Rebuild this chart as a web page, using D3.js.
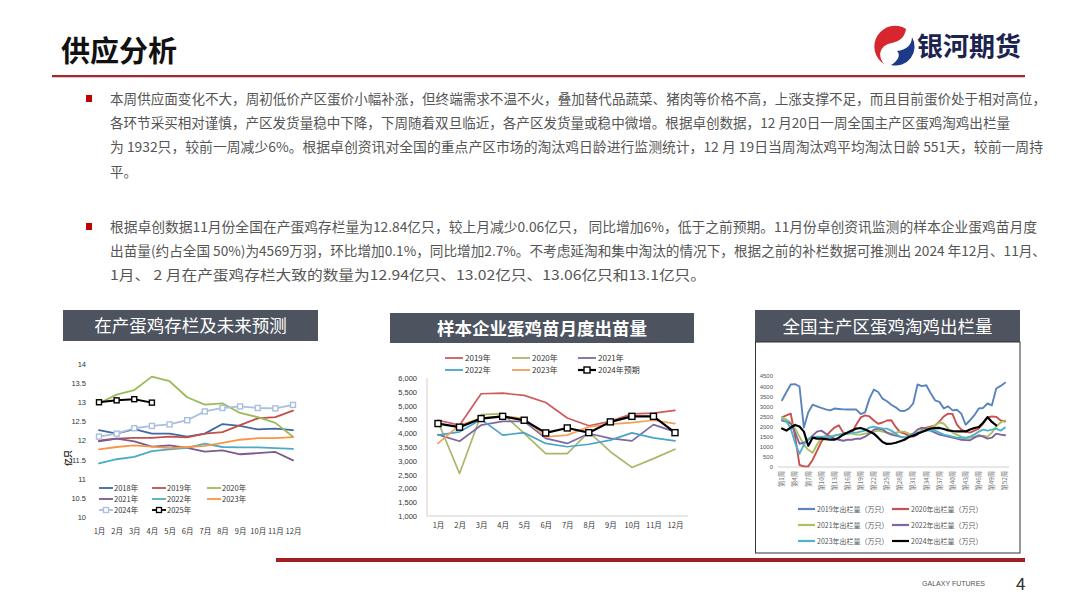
<!DOCTYPE html>
<html><head><meta charset="utf-8">
<script src="https://cdn.jsdelivr.net/npm/d3@7"></script>
<style>body{margin:0;background:#fff;overflow:hidden} svg{display:block}</style>
</head><body>
<svg id="c" width="1080" height="608"></svg>
<script>
// ---------- texts ----------
const pageTitle = "供应分析";
const logoText = "银河期货";
const para1Lines = [
 "本周供应面变化不大，周初低价产区蛋价小幅补涨，但终端需求不温不火，叠加替代品蔬菜、猪肉等价格不高，上涨支撑不足，而且目前蛋价处于相对高位，",
 "各环节采买相对谨慎，产区发货量稳中下降，下周随着双旦临近，各产区发货量或稳中微增。根据卓创数据，12 月20日一周全国主产区蛋鸡淘鸡出栏量",
 "为 1932只，较前一周减少6%。根据卓创资讯对全国的重点产区市场的淘汰鸡日龄进行监测统计，12 月 19日当周淘汰鸡平均淘汰日龄 551天，较前一周持",
 "平。"
];
const para2Lines = [
 "根据卓创数据11月份全国在产蛋鸡存栏量为12.84亿只，较上月减少0.06亿只， 同比增加6%，低于之前预期。11月份卓创资讯监测的样本企业蛋鸡苗月度",
 "出苗量(约占全国 50%)为4569万羽，环比增加0.1%，同比增加2.7%。不考虑延淘和集中淘汰的情况下，根据之前的补栏数据可推测出 2024 年12月、11月、",
 "1月、 2 月在产蛋鸡存栏大致的数量为12.94亿只、13.02亿只、13.06亿只和13.1亿只。"
];
const chartTitles = ["在产蛋鸡存栏及未来预测", "样本企业蛋鸡苗月度出苗量", "全国主产区蛋鸡淘鸡出栏量"];
const footerText = "GALAXY FUTURES";
const pageNumber = "4";

// ---------- chart 1: 在产蛋鸡存栏 (亿只) ----------
const months = ["1月","2月","3月","4月","5月","6月","7月","8月","9月","10月","11月","12月"];
const stockTicks = [10,10.5,11,11.5,12,12.5,13,13.5,14];
const stockUnit = "亿只";
const stockNames = ["2018年","2019年","2020年","2021年","2022年","2023年","2024年","2025年"];
const stock2018 = [12.27,12.18,12.30,12.18,12.18,12.10,12.18,12.43,12.38,12.29,12.31,12.27];
const stock2019 = [12.00,12.05,12.07,12.07,12.10,12.08,12.18,12.22,12.40,12.58,12.61,12.78];
const stock2020 = [12.97,13.20,13.32,13.67,13.55,13.13,12.94,12.97,12.72,12.61,12.46,12.10];
const stock2021 = [11.98,12.05,11.98,11.84,11.87,11.81,11.71,11.74,11.64,11.67,11.70,11.48];
const stock2022 = [11.40,11.51,11.57,11.72,11.77,11.81,11.92,11.83,11.82,11.82,11.80,11.78];
const stock2023 = [11.77,11.83,11.87,11.84,11.80,11.83,11.86,11.94,12.02,12.06,12.06,12.09];
const stock2024 = [12.10,12.18,12.32,12.38,12.42,12.53,12.76,12.85,12.89,12.85,12.84,12.93];
const stock2025 = [13.00,13.05,13.08,12.99];

// ---------- chart 2: 蛋鸡苗月度出苗量 ----------
const chickTicks = [1000,1500,2000,2500,3000,3500,4000,4500,5000,5500,6000];
const chickNames = ["2019年","2020年","2021年","2022年","2023年","2024年预期"];
const chick2019 = [4470,4290,5430,5450,5370,5110,4550,4270,4430,4700,4730,4830];
const chick2020 = [4420,2540,4670,4710,3990,3260,3260,4050,3330,2760,3080,3420];
const chick2021 = [3950,3710,4290,4430,4430,3810,3630,3990,3810,3720,4310,4050];
const chick2022 = [3930,4050,4500,3930,4020,3630,3510,3600,3750,4010,3830,3720];
const chick2023 = [3630,4290,4550,4620,4530,3870,3930,4230,4330,4380,4470,4350];
const chick2024f = [4350,4220,4530,4610,4470,4010,4190,4020,4410,4610,4610,4020];

// ---------- chart 3: 蛋鸡淘鸡出栏量 (万只, weekly) ----------
const weekTicks = [0,500,1000,1500,2000,2500,3000,3500,4000,4500];
const weekLabelWeeks = [1,4,7,10,13,16,19,22,25,28,31,34,37,40,43,46,49,52];
const cullNames = ["2019年出栏量（万只）","2020年出栏量（万只）","2021年出栏量（万只）","2022年出栏量（万只）","2023年出栏量（万只）","2024年出栏量（万只）"];
const cull2019 = [3300,3700,4080,4100,3980,1950,2700,3080,3000,2920,2850,2800,2890,2870,2850,2840,2840,2840,2620,2700,3380,3830,3710,3380,3250,3080,2950,2780,2770,2890,3140,4080,4000,4040,3650,3300,3220,2900,3000,2800,2830,2640,2090,2310,2560,2890,2920,3140,3050,3880,4010,4170];
const cull2020 = [2450,2550,2640,1500,100,30,30,350,800,1250,1500,1750,1950,2060,1700,1650,1700,2100,2450,2550,2500,2300,2140,2200,2300,2310,1980,1730,1650,1550,1500,1600,1850,1950,2000,2050,2250,2500,2640,2620,2100,1850,1750,1700,1800,1900,2150,2450,2500,2480,2300,2250];
const cull2021 = [2450,2350,2200,1900,1500,1100,850,700,1100,1450,1550,1500,1550,1600,1600,1650,1650,1600,1600,1650,1700,1750,1800,1750,1700,1650,1700,1750,1750,1650,1600,1700,1800,1900,1950,2050,2200,2150,1900,1700,1600,1500,1400,1450,1500,1500,1550,1500,1700,2000,2200,2300];
const cull2022 = [2300,2250,2150,1700,1150,1200,1350,1550,1750,1800,1650,1500,1400,1350,1300,1350,1350,1400,1400,1500,1650,1850,1900,1850,1700,1600,1550,1500,1450,1500,1650,1850,1950,1900,1800,1700,1600,1550,1500,1450,1400,1350,1330,1320,1450,1570,1500,1400,1450,1650,1600,1570];
const cull2023 = [2360,2250,1900,1200,650,1100,1400,1450,1500,1500,1450,1500,1550,1600,1650,1650,1700,1700,1750,1800,1950,2000,1950,1900,1900,1800,1650,1500,1450,1500,1600,1700,1750,1800,1800,1800,1700,1600,1550,1500,1450,1450,1450,1500,1600,1750,1850,1800,1850,1900,1800,1950];
const cull2024 = [1900,1800,1950,2080,2000,1750,1050,1450,1400,1400,1380,1350,1350,1450,1600,1700,1800,1900,1930,1850,1750,1650,1450,1240,1140,1150,1200,1270,1350,1480,1550,1650,1730,1820,1900,1920,1930,1880,1810,1780,1760,1760,1760,1850,1930,1980,2190,2470,2230,2060];

// ---------- drawing ----------
const svg = d3.select("#c");
const CJK = "'Noto Sans CJK SC','Noto Sans',sans-serif";
const NUM = "'Liberation Sans','DejaVu Sans',sans-serif";
svg.append("rect").attr("width",1080).attr("height",608).attr("fill","#fff");

// header
svg.append("text").attr("x",61).attr("y",62).text(pageTitle)
  .attr("font-family",CJK).attr("font-weight",700).attr("font-size",29).attr("fill","#111");
// logo icon
const logo = svg.append("g");
logo.append("path").attr("d","M906,29 A19,19 0 1,0 884,64 C877,55 880,45 892,43 C901,41 905,36 906,29 Z").attr("fill","#d7262e");
logo.append("path").attr("d","M912,37 A19,19 0 0,1 891,65 C898,61 901,55 897,51 C906,50 912,45 912,37 Z").attr("fill","#1d3a8a");
svg.append("text").attr("x",917).attr("y",56).text(logoText)
  .attr("font-family",CJK).attr("font-weight",700).attr("font-size",26).attr("fill","#1b2350");
svg.append("rect").attr("x",52).attr("y",75).attr("width",973).attr("height",2).attr("fill","#a8272c");
svg.append("rect").attr("x",52).attr("y",77).attr("width",973).attr("height",1).attr("fill","#d8c8c8");

// paragraphs
const p1Widths = [936,900,933,null];
const p2Widths = [927,936,596];
function para(lines, widths, y0){
  svg.append("rect").attr("x",86).attr("y",y0-9).attr("width",6).attr("height",7).attr("fill","#c00000");
  lines.forEach((s,i)=>{
    const t = svg.append("text").attr("x",110).attr("y",y0+i*24.2).text(s)
      .attr("font-family",CJK).attr("font-size",13.5).attr("fill","#555");
    if(widths[i]) t.attr("textLength",widths[i]).attr("lengthAdjust","spacingAndGlyphs");
  });
}
para(para1Lines,p1Widths,104);
para(para2Lines,p2Widths,232);

// chart title boxes
const boxes = [{x:63,y:310,w:255,h:31,b:400},{x:390,y:313,w:304,h:30,b:700},{x:755,y:310,w:265,h:32,b:400}];
boxes.forEach((b,i)=>{
  svg.append("rect").attr("x",b.x).attr("y",b.y).attr("width",b.w).attr("height",b.h).attr("fill","#4d5460");
  svg.append("text").attr("x",b.x+b.w/2).attr("y",b.y+b.h/2+6.5).attr("text-anchor","middle").text(chartTitles[i])
    .attr("font-family",CJK).attr("font-weight",b.b).attr("font-size",17.5).attr("fill","#fff");
});

function drawSeries(g, data, x, y, color, width, marker, markerFill){
  const pts = data.map((v,i)=>[x(i),y(v)]);
  g.append("path").attr("d",d3.line()(pts)).attr("fill","none").attr("stroke",color)
    .attr("stroke-width",width).attr("stroke-linejoin","round").attr("stroke-linecap","round");
  if(marker){
    g.selectAll(null).data(pts).join("rect").attr("x",d=>d[0]-marker/2).attr("y",d=>d[1]-marker/2)
      .attr("width",marker).attr("height",marker).attr("fill",markerFill).attr("stroke",color).attr("stroke-width",1.4);
  }
}

// ---------- chart 1 ----------
{
  const g = svg.append("g");
  const x = d3.scalePoint().domain(months).range([99,293]);
  const y = d3.scaleLinear().domain([10,14]).range([517,364]);
  const xi = i=>x(months[i]);
  const yAxis = d3.axisLeft(y).tickValues(stockTicks).tickSize(0).tickPadding(0).tickFormat(d3.format("~g"));
  const ya = g.append("g").attr("transform","translate(86,0)").call(yAxis);
  ya.select(".domain").remove();
  ya.selectAll("text").attr("font-family",NUM).attr("font-size",7.5).attr("fill","#333");
  const xAxis = d3.axisBottom(x).tickSize(0).tickPadding(0);
  const xa = g.append("g").attr("transform","translate(0,529)").call(xAxis);
  xa.select(".domain").remove();
  xa.selectAll("text").attr("font-family",CJK).attr("font-size",7.5).attr("fill","#333");
  g.append("text").attr("transform","translate(71,458) rotate(-90)").attr("text-anchor","middle").text(stockUnit)
    .attr("font-family",CJK).attr("font-weight",700).attr("font-size",8).attr("fill","#222");
  const cols = ["#44679f","#c0504d","#9bbb59","#7b5a8e","#4bacc6","#f79646","#a9bfdf","#000000"];
  const series = [stock2018,stock2019,stock2020,stock2021,stock2022,stock2023,stock2024,stock2025];
  series.forEach((s,i)=>{
    const mk = i>=6 ? 5 : 0;
    drawSeries(g,s,xi,y,cols[i],i===7?2:1.8,mk,"#fff");
  });
  // legend
  const lx = [99,152,207], ly=[488,499,510];
  stockNames.forEach((n,i)=>{
    const cx = lx[i%3], cy = ly[Math.floor(i/3)];
    g.append("line").attr("x1",cx).attr("x2",cx+14).attr("y1",cy).attr("y2",cy).attr("stroke",cols[i]).attr("stroke-width",1.8);
    if(i>=6) g.append("rect").attr("x",cx+4.5).attr("y",cy-2.5).attr("width",5).attr("height",5).attr("fill","#fff").attr("stroke",cols[i]).attr("stroke-width",1.3);
    g.append("text").attr("x",cx+15).attr("y",cy+2.8).text(n).attr("font-family",CJK).attr("font-size",7.5).attr("fill","#333");
  });
}

// ---------- chart 2 ----------
{
  const g = svg.append("g");
  const x = d3.scalePoint().domain(months).range([438,675]);
  const y = d3.scaleLinear().domain([1000,6000]).range([516,378]);
  const xi = i=>x(months[i]);
  g.append("line").attr("x1",427).attr("x2",427).attr("y1",378).attr("y2",516).attr("stroke","#d0d0d0");
  g.append("line").attr("x1",427).attr("x2",688).attr("y1",516).attr("y2",516).attr("stroke","#d0d0d0");
  const ya = g.append("g").attr("transform","translate(417,0)").call(d3.axisLeft(y).tickValues(chickTicks).tickSize(0).tickPadding(0).tickFormat(d3.format(",")));
  ya.select(".domain").remove();
  ya.selectAll("text").attr("font-family",NUM).attr("font-size",7.5).attr("fill","#333");
  const xa = g.append("g").attr("transform","translate(0,523)").call(d3.axisBottom(x).tickSize(0).tickPadding(0));
  xa.select(".domain").remove();
  xa.selectAll("text").attr("font-family",CJK).attr("font-size",7.5).attr("fill","#333");
  const cols = ["#cf5b5e","#a4b96a","#7e68a4","#4aa3c8","#f2a05a","#000000"];
  const series = [chick2019,chick2020,chick2021,chick2022,chick2023,chick2024f];
  series.forEach((s,i)=>drawSeries(g,s,xi,y,cols[i],i===5?2.2:1.7,i===5?6:0,"#fff"));
  const lx=[445,512,578], ly=[358,370];
  chickNames.forEach((n,i)=>{
    const cx=lx[i%3], cy=ly[Math.floor(i/3)];
    g.append("line").attr("x1",cx).attr("x2",cx+18).attr("y1",cy).attr("y2",cy).attr("stroke",cols[i]).attr("stroke-width",i===5?2.2:1.8);
    if(i===5) g.append("rect").attr("x",cx+6).attr("y",cy-3).attr("width",6).attr("height",6).attr("fill","#fff").attr("stroke","#000").attr("stroke-width",1.4);
    g.append("text").attr("x",cx+20).attr("y",cy+3).text(n).attr("font-family",CJK).attr("font-size",8).attr("fill","#333");
  });
}

// ---------- chart 3 ----------
{
  const g = svg.append("g");
  g.append("rect").attr("x",755.5).attr("y",342).attr("width",264.5).attr("height",211).attr("fill","none").attr("stroke","#333").attr("stroke-width",1);
  const x = d3.scaleLinear().domain([1,52]).range([782,1005]);
  const y = d3.scaleLinear().domain([0,4500]).range([467,376]);
  g.append("line").attr("x1",778).attr("x2",1009).attr("y1",467).attr("y2",467).attr("stroke","#d0d0d0");
  const ya = g.append("g").attr("transform","translate(773,0)").call(d3.axisLeft(y).tickValues(weekTicks).tickSize(0).tickPadding(0).tickFormat(d3.format("d")));
  ya.select(".domain").remove();
  ya.selectAll("text").attr("font-family",NUM).attr("font-size",6).attr("fill","#555");
  g.selectAll(null).data(weekLabelWeeks).join("text")
    .attr("transform",d=>`translate(${x(d)+2.3},471) rotate(-90)`).attr("text-anchor","end").text(d=>`第${d}周`)
    .attr("font-family",CJK).attr("font-size",6.3).attr("fill","#777");
  const cols = ["#5a84bc","#c9504f","#a9c25f","#7f64a0","#4fb2cc","#000000"];
  const series = [cull2019,cull2020,cull2021,cull2022,cull2023,cull2024];
  series.forEach((s,i)=>drawSeries(g,s,i2=>x(i2+1),y,cols[i],i===5?2.2:1.9,0,null));
  const lx=[798,892], ly=[509,525,541];
  cullNames.forEach((n,i)=>{
    const cx=lx[i%2], cy=ly[Math.floor(i/2)];
    g.append("line").attr("x1",cx).attr("x2",cx+17).attr("y1",cy).attr("y2",cy).attr("stroke",cols[i]).attr("stroke-width",2.2);
    g.append("text").attr("x",cx+19).attr("y",cy+2.5).text(n).attr("font-family",CJK).attr("font-size",7).attr("fill","#555");
  });
}

// footer
svg.append("rect").attr("x",276).attr("y",558).attr("width",749).attr("height",4).attr("fill","#a41e22");
svg.append("text").attr("x",922).attr("y",586).text(footerText).attr("font-family",NUM).attr("font-size",7.5).attr("fill","#555")
  .attr("textLength",63).attr("lengthAdjust","spacingAndGlyphs");
svg.append("text").attr("x",1016).attr("y",590).text(pageNumber).attr("font-family",CJK).attr("font-size",17).attr("fill","#333");
</script>
</body></html>
